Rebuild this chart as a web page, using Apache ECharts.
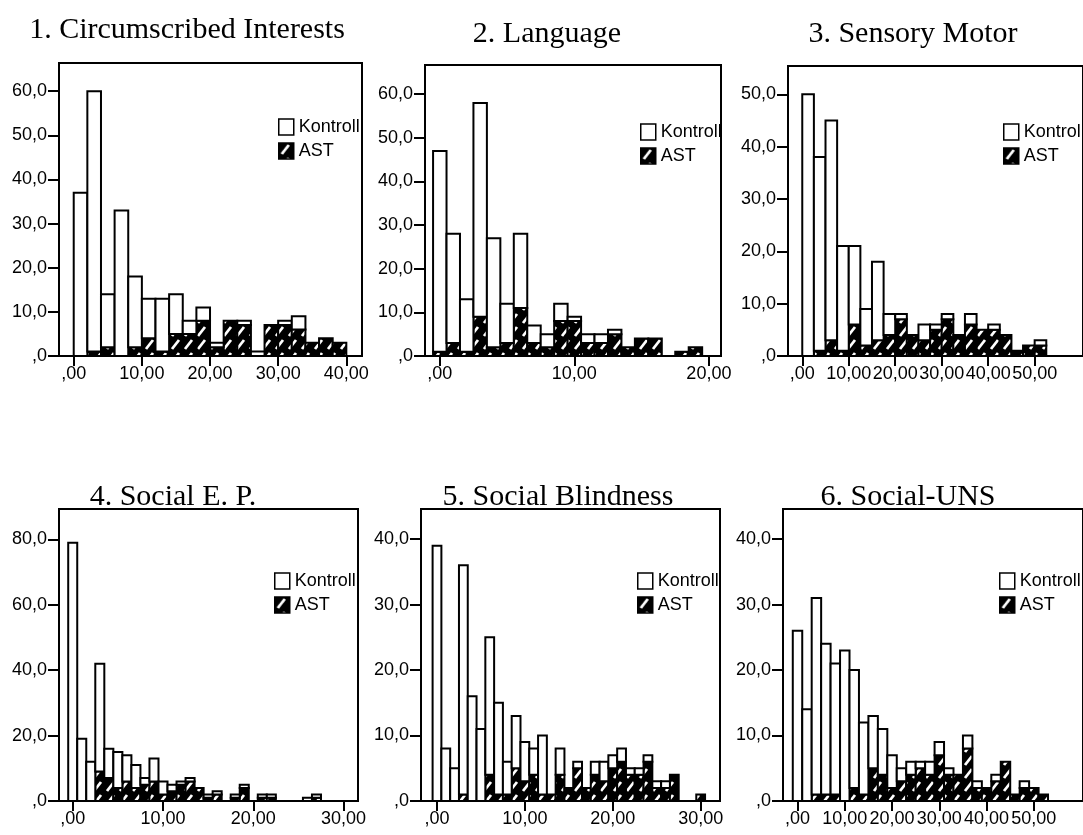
<!DOCTYPE html>
<html>
<head>
<meta charset="utf-8">
<script src="https://cdn.jsdelivr.net/npm/echarts@6/dist/echarts.min.js"></script>
<style>
html,body{margin:0;padding:0;background:#fff;}
#chart{width:1083px;height:835px;}
</style>
</head>
<body>
<div id="chart"></div>
<script>
// ---------------- DATA ----------------
const titles = ['1. Circumscribed Interests', '2. Language', '3. Sensory Motor',
                '4. Social E. P.', '5. Social Blindness', '6. Social-UNS'];
const seriesNames = ['Kontroll', 'AST'];

// Panel 1: bins of width 2
const bins1 = [1,3,5,7,9,11,13,15,17,19,21,23,25,27,29,31,33,35,37,39];
const ast1  = [0,1,2,0,2,4,1,5,5,8,2,8,7,0,7,7,6,3,4,3];
const kon1  = [37,59,12,33,16,9,12,9,3,3,1,0,1,1,0,1,3,0,0,0];

// Panel 2: bins of width 1
const bins2 = [0,1,2,3,4,5,6,7,8,9,10,11,12,13,14,15,16,17,18,19];
const ast2  = [1,3,1,9,2,3,11,3,2,8,8,3,3,5,2,4,4,0,1,2];
const kon2  = [46,25,12,49,25,9,17,4,3,4,1,2,2,1,0,0,0,0,0,0];

// Panel 3: bins of width 2.5
const bins3 = [1.25,3.75,6.25,8.75,11.25,13.75,16.25,18.75,21.25,23.75,26.25,28.75,31.25,33.75,36.25,38.75,41.25,43.75,46.25,48.75,51.25];
const ast3  = [0,1,3,1,6,2,3,4,7,4,3,5,7,4,6,5,5,4,1,2,2];
const kon3  = [50,37,42,20,15,7,15,4,1,0,3,1,1,0,2,0,1,0,0,0,1];

// Panel 4: bins of width 1
const bins4 = [0,1,2,3,4,5,6,7,8,9,10,11,12,13,14,15,16,17,18,19,20,21,22,23,24,25,26,27];
const ast4  = [0,0,0,9,7,4,6,4,5,6,2,3,5,6,4,1,2,0,1,4,0,1,1,0,0,0,0,1];
const kon4  = [79,19,12,33,9,11,8,7,2,7,4,2,1,1,0,1,1,0,1,1,0,1,1,0,0,0,1,1];

// Panel 5: bins of width 1
const bins5 = [0,1,2,3,4,5,6,7,8,9,10,11,12,13,14,15,16,17,18,19,20,21,22,23,24,25,26,27,28,29,30];
const ast5  = [0,0,0,1,0,0,4,1,1,5,3,4,1,1,4,2,5,2,4,3,5,6,4,4,6,2,2,4,0,0,1];
const kon5  = [39,8,5,35,16,11,21,14,5,8,6,4,9,0,4,0,1,0,2,3,2,2,1,1,1,1,1,0,0,0,0];

// Panel 6: bins of width 2
const bins6 = [0,2,4,6,8,10,12,14,16,18,20,22,24,26,28,30,32,34,36,38,40,42,44,46,48,50,52];
const ast6  = [0,0,1,1,1,0,2,1,5,4,2,3,4,5,4,7,4,4,8,2,2,3,6,1,2,2,1];
const kon6  = [26,14,30,23,20,23,18,11,8,7,5,2,2,1,2,2,1,0,2,1,0,1,0,0,1,0,0];

// Tick values
const xTicks1 = [0,10,20,30,40];
const xTicks2 = [0,10,20];
const xTicks3 = [0,10,20,30,40,50];
const xTicks4 = [0,10,20,30];
const xTicks5 = [0,10,20,30];
const xTicks6 = [0,10,20,30,40,50];
const yTicks1 = [0,10,20,30,40,50,60];
const yTicks2 = [0,10,20,30,40,50,60];
const yTicks3 = [0,10,20,30,40,50];
const yTicks4 = [0,20,40,60,80];
const yTicks5 = [0,10,20,30,40];
const yTicks6 = [0,10,20,30,40];

// ---------------- LAYOUT ----------------
const panels = [
  {bins:bins1, ast:ast1, kon:kon1, w:2,   xt:xTicks1, yt:yTicks1, grid:{left:59, top:63, width:303, height:293}, xr:[-2.16,42.3], ymax:66.4, leg:[278,118], title:[187,15]},
  {bins:bins2, ast:ast2, kon:kon2, w:1,   xt:xTicks2, yt:yTicks2, grid:{left:425,top:65, width:296, height:291}, xr:[-1.1,20.9],  ymax:66.7, leg:[640,123], title:[547,19]},
  {bins:bins3, ast:ast3, kon:kon3, w:2.5, xt:xTicks3, yt:yTicks3, grid:{left:788,top:66, width:310, height:290}, xr:[-3.07,60.4], ymax:55.4, leg:[1003,123], title:[913,19]},
  {bins:bins4, ast:ast4, kon:kon4, w:1,   xt:xTicks4, yt:yTicks4, grid:{left:59, top:509,width:299, height:292}, xr:[-1.52,31.6], ymax:89.3, leg:[274,572], title:[173,482]},
  {bins:bins5, ast:ast5, kon:kon5, w:1,   xt:xTicks5, yt:yTicks5, grid:{left:421,top:509,width:299, height:292}, xr:[-1.82,32.2], ymax:44.6, leg:[637,572], title:[558,482]},
  {bins:bins6, ast:ast6, kon:kon6, w:2,   xt:xTicks6, yt:yTicks6, grid:{left:783,top:509,width:310, height:292}, xr:[-3.07,60.4], ymax:44.6, leg:[999,572], title:[908,482]}
];

function makeHatch() {
  const c = document.createElement('canvas');
  c.width = 13; c.height = 13;
  const g = c.getContext('2d');
  g.fillStyle = '#000'; g.fillRect(0, 0, 13, 13);
  g.strokeStyle = '#fff'; g.lineWidth = 2.8; g.lineCap = 'butt';
  g.beginPath(); g.moveTo(3, 11); g.lineTo(10, 2); g.stroke();
  return c;
}
const hatchFill = {image: makeHatch(), repeat: 'repeat'};

function fmtX(v) { return v === 0 ? ',00' : v.toFixed(2).replace('.', ','); }
function fmtY(v) { return v === 0 ? ',0' : v.toFixed(1).replace('.', ','); }

function barRender(binW, fill) {
  return function (params, api) {
    const x = api.value(0), lo = api.value(1), hi = api.value(2);
    if (!(hi > lo)) return null;
    const p1 = api.coord([x - binW / 2, hi]);
    const p2 = api.coord([x + binW / 2, lo]);
    return {
      type: 'rect',
      shape: {x: p1[0], y: p1[1], width: p2[0] - p1[0], height: p2[1] - p1[1]},
      style: {fill: fill, stroke: '#000', lineWidth: 2}
    };
  };
}

const option = {
  backgroundColor: '#fff',
  animation: false,
  title: [], grid: [], xAxis: [], yAxis: [], series: [], legend: []
};

panels.forEach((p, i) => {
  option.title.push({
    text: titles[i], left: p.title[0], top: p.title[1], textAlign: 'center', padding: 0,
    textStyle: {fontFamily: 'Liberation Serif', fontSize: 30, fontWeight: 'normal', color: '#000'}
  });
  option.grid.push(Object.assign({show: true, borderColor: '#000', borderWidth: 2, backgroundColor: 'transparent'}, p.grid));
  option.xAxis.push({
    gridIndex: i, type: 'value', min: p.xr[0], max: p.xr[1],
    axisLine: {show: true, onZero: false, lineStyle: {color: '#000', width: 2}},
    axisTick: {show: true, customValues: p.xt, length: 10, lineStyle: {color: '#000', width: 2}},
    axisLabel: {customValues: p.xt, formatter: fmtX, color: '#000', fontSize: 18, fontFamily: 'Liberation Sans', margin: 9},
    splitLine: {show: false}
  });
  option.yAxis.push({
    gridIndex: i, type: 'value', min: 0, max: p.ymax,
    axisLine: {show: true, onZero: false, lineStyle: {color: '#000', width: 2}},
    axisTick: {show: true, customValues: p.yt, length: 11, lineStyle: {color: '#000', width: 2}},
    axisLabel: {customValues: p.yt, formatter: fmtY, color: '#000', fontSize: 18, fontFamily: 'Liberation Sans', margin: 12},
    splitLine: {show: false}
  });
  option.series.push({
    name: 'AST', type: 'custom', xAxisIndex: i, yAxisIndex: i,
    itemStyle: {color: hatchFill},
    renderItem: barRender(p.w, hatchFill),
    encode: {x: 0, y: [1, 2]},
    data: p.bins.map((b, j) => [b, 0, p.ast[j]])
  });
  option.series.push({
    name: 'Kontroll', type: 'custom', xAxisIndex: i, yAxisIndex: i,
    itemStyle: {color: '#fff'},
    renderItem: barRender(p.w, '#fff'),
    encode: {x: 0, y: [1, 2]},
    data: p.bins.map((b, j) => [b, p.ast[j], p.ast[j] + p.kon[j]])
  });
  option.legend.push({
    left: p.leg[0], top: p.leg[1], orient: 'vertical', padding: 0,
    itemWidth: 15, itemHeight: 16, itemGap: 6, selectedMode: false,
    textStyle: {fontFamily: 'Liberation Sans', fontSize: 18, color: '#000', lineHeight: 16},
    data: [
      {name: seriesNames[0], icon: 'rect', itemStyle: {color: '#fff', borderColor: '#000', borderWidth: 1.5}},
      {name: seriesNames[1], icon: 'rect', itemStyle: {color: hatchFill, borderColor: '#000', borderWidth: 1.5}}
    ]
  });
});

const chart = echarts.init(document.getElementById('chart'), null, {renderer: 'canvas'});
chart.setOption(option);
</script>
</body>
</html>
